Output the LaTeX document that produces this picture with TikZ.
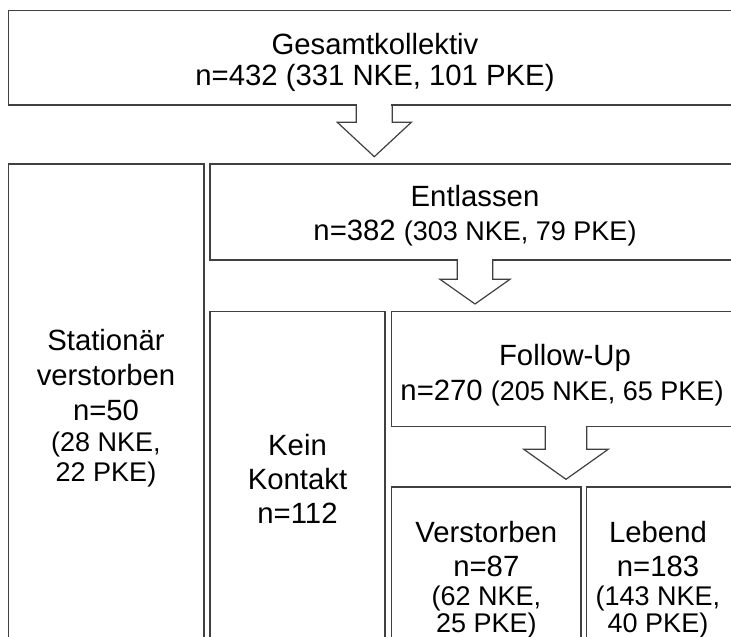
\documentclass[tikz,border=0pt]{standalone}
\usepackage{fontspec}
\setmainfont{Liberation Sans}
\usetikzlibrary{calc}
\definecolor{linegray}{RGB}{64,64,64}
\newcommand{\bigf}{\fontsize{29.3bp}{35bp}\selectfont}
\newcommand{\smallf}{\fontsize{27bp}{30bp}\selectfont}
% block arrow: #1 top centre coordinate, #2 stem half width, #3 stem length, #4 head half width, #5 head length
\newcommand{\blkarrow}[5]{%
  \begin{scope}[shift={(#1)}]
    \fill[white] (-#2+0.9,-2) -- (-#2+0.9,#3) -- (#2-0.9,#3) -- (#2-0.9,-2) -- cycle;
    \fill[white] (-#2,#3) -- (-#4,#3) -- (0,#3+#5) -- (#4,#3) -- cycle;
    \draw[arrowline] (-#2,0) -- (-#2,#3) -- (-#4,#3) -- (0,#3+#5) -- (#4,#3) -- (#2,#3) -- (#2,0);
  \end{scope}}
\begin{document}
\begin{tikzpicture}[x=1bp,y=-1bp,
  boxn/.style={draw=linegray, line width=1.4bp, rectangle, inner sep=0pt, outer sep=0pt, anchor=north west},
  arrowline/.style={draw=linegray, line width=1.2bp, line join=miter},
  bigt/.style={font=\bigf, inner sep=0pt, anchor=base, text=black},
  smallt/.style={font=\smallf, inner sep=0pt, anchor=base, text=black},
]
\useasboundingbox (0,0) rectangle (731,637);
\clip (0,0) rectangle (731,637);
\fill[white] (0,0) rectangle (731,637);

% boxes
\node[boxn, minimum width=735bp, minimum height=94.3bp] (gesamt) at (8.3,10.7) {};
\node[boxn, minimum width=195.7bp, minimum height=500bp] (stat) at (8.3,164) {};
\node[boxn, minimum width=530bp, minimum height=96bp] (entl) at (210,164) {};
\node[boxn, minimum width=175bp, minimum height=400bp] (kein) at (210,311.5) {};
\node[boxn, minimum width=348.4bp, minimum height=115.2bp] (follow) at (391.6,311.5) {};
\node[boxn, minimum width=189.4bp, minimum height=300bp] (verst) at (391.6,487) {};
\node[boxn, minimum width=150bp, minimum height=300bp] (leb) at (586.7,487) {};

% arrows (connectors between boxes)
\coordinate (a1) at (374.3,105);
\coordinate (a2) at (475,260);
\coordinate (a3) at (566,426.7);
\blkarrow{a1}{18}{17.3}{37}{34.4}
\blkarrow{a2}{17.8}{19.3}{35}{24.7}
\blkarrow{a3}{20.8}{22.6}{42.2}{30}

% texts
\node[bigt] (t1a) at (375,55) {Gesamtkollektiv};
\node[bigt] (t1b) at (375,86) {n=432 (331 NKE, 101 PKE)};

\node[bigt] (t2a) at (475,207) {Entlassen};
\node[bigt] (t2b) at (475,240) {n=382 {\smallf(303 NKE, 79 PKE)}};

\node[bigt] (t3a) at (106,350) {Stationär};
\node[bigt] (t3b) at (106,385) {verstorben};
\node[bigt] (t3c) at (106,420) {n=50};
\node[smallt] (t3d) at (106,451) {(28 NKE,};
\node[smallt] (t3e) at (106,481) {22 PKE)};

\node[bigt] (t4a) at (565,365) {Follow-Up};
\node[bigt] (t4b) at (562,400) {n=270 {\smallf(205 NKE, 65 PKE)}};

\node[bigt] (t5a) at (297.5,455) {Kein};
\node[bigt] (t5b) at (297.5,489) {Kontakt};
\node[bigt] (t5c) at (297.5,523) {n=112};

\node[bigt] (t6a) at (486.3,542) {Verstorben};
\node[bigt] (t6b) at (486.3,576) {n=87};
\node[smallt] (t6c) at (486.3,605) {(62 NKE,};
\node[smallt] (t6d) at (486.3,632) {25 PKE)};

\node[bigt] (t7a) at (658,542) {Lebend};
\node[bigt] (t7b) at (658,576) {n=183};
\node[smallt] (t7c) at (658,605) {(143 NKE,};
\node[smallt] (t7d) at (658,632) {40 PKE)};
\end{tikzpicture}
\end{document}
